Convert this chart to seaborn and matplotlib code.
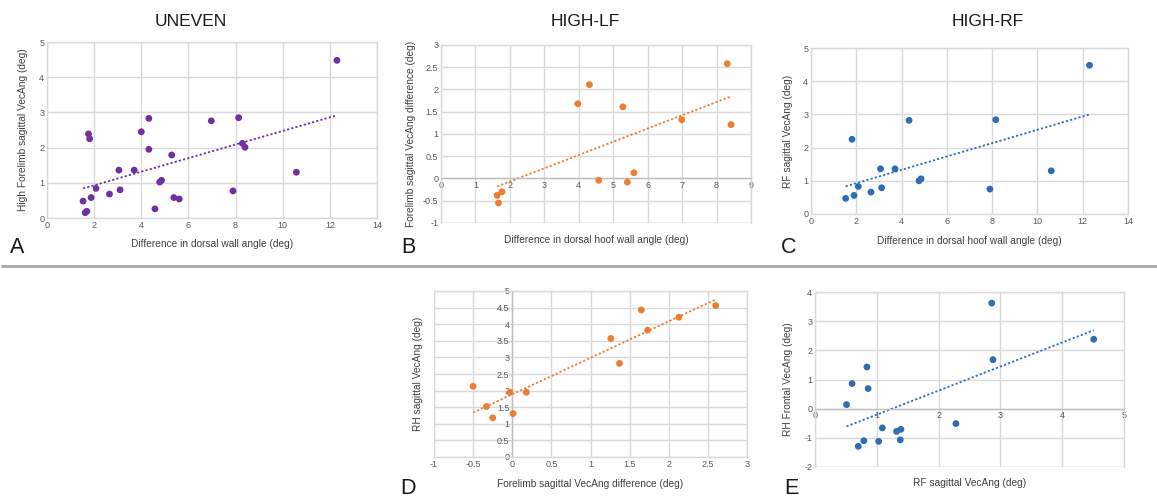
import numpy as np
import pandas as pd
import matplotlib
matplotlib.use('Agg')
import matplotlib.pyplot as plt
import seaborn as sns

# Panel A - UNEVEN
uneven_x = [1.53, 1.62, 1.69, 1.76, 1.81, 1.87, 2.08, 2.65, 3.05, 3.10, 3.70, 4.00, 4.32, 4.32,
            4.58, 4.78, 4.86, 5.29, 5.38, 5.61, 6.97, 7.89, 8.13, 8.29, 8.40, 10.58, 12.30]
uneven_y = [0.48, 0.15, 0.19, 2.39, 2.25, 0.58, 0.84, 0.68, 1.36, 0.80, 1.36, 2.45, 2.83, 1.95,
            0.26, 1.02, 1.07, 1.79, 0.58, 0.54, 2.76, 0.77, 2.85, 2.12, 2.01, 1.30, 4.48]

# Panel B - HIGH-LF
lf_x = [1.63, 1.67, 1.77, 3.97, 4.31, 4.58, 5.28, 5.41, 5.60, 6.99, 8.31, 8.42]
lf_y = [-0.38, -0.55, -0.30, 1.68, 2.11, -0.04, 1.61, -0.08, 0.13, 1.32, 2.58, 1.21]

# Panel C - HIGH-RF
rf_x = [1.53, 1.81, 1.90, 2.09, 2.65, 3.07, 3.12, 3.71, 4.33, 4.77, 4.86, 7.90, 8.16, 10.61, 12.30]
rf_y = [0.47, 2.25, 0.56, 0.83, 0.66, 1.36, 0.79, 1.36, 2.82, 1.00, 1.06, 0.75, 2.84, 1.30, 4.48]

# Panel D - forelimb difference vs RH sagittal
fl_diff = [-0.50, -0.33, -0.25, -0.03, 0.01, 0.18, 1.26, 1.37, 1.65, 1.73, 2.13, 2.60]
rh_sag = [2.13, 1.52, 1.18, 1.95, 1.31, 1.95, 3.57, 2.82, 4.43, 3.82, 4.21, 4.56]

# Panel E - RF sagittal vs RH frontal
rf_sag = [0.51, 0.60, 0.70, 0.79, 0.84, 0.86, 1.03, 1.09, 1.32, 1.38, 1.39, 2.28, 2.86, 2.88, 4.51]
rh_front = [0.14, 0.86, -1.29, -1.10, 1.43, 0.69, -1.12, -0.66, -0.78, -1.07, -0.71, -0.51, 3.62, 1.68, 2.38]

purple = '#7030A0'
orange = '#ED7D31'
blue = '#2E6DB4'
grid_c = '#D9D9D9'
txt_c = '#404040'

sns.set_theme(style='white')
plt.rcParams['font.family'] = ['Liberation Sans', 'DejaVu Sans']

W, H = 1157, 497
fig = plt.figure(figsize=(W / 100, H / 100), dpi=100)


def px_axes(x0, x1, ytop, ybot):
    return fig.add_axes([x0 / W, 1 - ybot / H, (x1 - x0) / W, (ybot - ytop) / H])


def panel(ax, x, y, color, xlim, xstep, ylim, ystep, xlabel, ylabel,
          xcross=None, ycross=None):
    df = pd.DataFrame({'x': x, 'y': y})
    sns.regplot(data=df, x='x', y='y', ax=ax, scatter=False, ci=None, truncate=True,
                line_kws=dict(color=color, ls=(0, (1.2, 1.2)), lw=1.3))
    sns.scatterplot(data=df, x='x', y='y', ax=ax, color=color, s=24, edgecolor='none', zorder=3)
    ax.set_xlim(*xlim)
    ax.set_ylim(*ylim)
    ax.set_xticks(np.arange(xlim[0], xlim[1] + 1e-9, xstep))
    ax.set_yticks(np.arange(ylim[0], ylim[1] + 1e-9, ystep))
    ax.set_xticklabels(['{:g}'.format(v) for v in ax.get_xticks()])
    ax.set_yticklabels(['{:g}'.format(v) for v in ax.get_yticks()])
    ax.grid(True, color=grid_c, lw=1)
    ax.set_axisbelow(True)
    for s in ax.spines.values():
        s.set_color(grid_c)
        s.set_linewidth(1)
    ax.tick_params(length=0, labelsize=6.5, colors='#595959', pad=2)
    ax.set_xlabel(xlabel, fontsize=7.3, color=txt_c)
    ax.set_ylabel(ylabel, fontsize=7.3, color=txt_c)
    if xcross is not None:
        ax.spines['bottom'].set_position(('data', xcross))
        ax.spines['bottom'].set_color('#BFBFBF')
        ax.axhline(ylim[0], color=grid_c, lw=1, zorder=0)
    if ycross is not None:
        ax.spines['left'].set_position(('data', ycross))
        ax.spines['left'].set_color('#BFBFBF')
        ax.axvline(xlim[0], color=grid_c, lw=1, zorder=0)


def place_labels(ax, xlab_y, ylab_x):
    # put axis labels at given figure pixel positions
    bb = ax.get_position()
    ax.xaxis.set_label_coords(0.5, (1 - xlab_y / H - bb.y0) / bb.height)
    ax.yaxis.set_label_coords((ylab_x / W - bb.x0) / bb.width, 0.5)
    ax.xaxis.label.set_va('center')
    ax.yaxis.label.set_va('center')


axA = px_axes(47, 377, 42, 218)
panel(axA, uneven_x, uneven_y, purple, (0, 14), 2, (0, 5), 1,
      'Difference in dorsal wall angle (deg)', 'High Forelimb sagittal VecAng (deg)')
place_labels(axA, 244, 23)

axB = px_axes(441, 751, 45, 223)
panel(axB, lf_x, lf_y, orange, (0, 9), 1, (-1, 3), 0.5,
      'Difference in dorsal hoof wall angle (deg)', 'Forelimb sagittal VecAng difference (deg)',
      xcross=0)
place_labels(axB, 240, 411)

axC = px_axes(811, 1128, 48, 214)
panel(axC, rf_x, rf_y, blue, (0, 14), 2, (0, 5), 1,
      'Difference in dorsal hoof wall angle (deg)', 'RF sagittal VecAng (deg)')
place_labels(axC, 241, 788)

axD = px_axes(434, 747, 291, 457)
panel(axD, fl_diff, rh_sag, orange, (-1, 3), 0.5, (0, 5), 0.5,
      'Forelimb sagittal VecAng difference (deg)', 'RH sagittal VecAng (deg)', ycross=0)
place_labels(axD, 484, 418)

axE = px_axes(815, 1124, 292, 467)
panel(axE, rf_sag, rh_front, blue, (0, 5), 1, (-2, 4), 1,
      'RF sagittal VecAng (deg)', 'RH Frontal VecAng (deg)', xcross=0)
place_labels(axE, 483, 788)

# column titles
for x, t in [(191, 'UNEVEN'), (585, 'HIGH-LF'), (988, 'HIGH-RF')]:
    fig.text(x / W, 1 - 22 / H, t, ha='center', va='center', fontsize=12.5, color='#1a1a1a')

# panel letters
for x, y, t in [(17, 253, 'A'), (408, 253, 'B'), (789, 253, 'C'), (408, 494, 'D'), (791, 494, 'E')]:
    fig.text(x / W, 1 - y / H, t, ha='center', va='baseline', fontsize=15.5, color='#1a1a1a')

# separator line between rows
fig.add_artist(plt.Line2D([2 / W, 1], [1 - 266 / H] * 2, color='#A6A6A6', lw=2))

fig.savefig('out.png', dpi=100)
